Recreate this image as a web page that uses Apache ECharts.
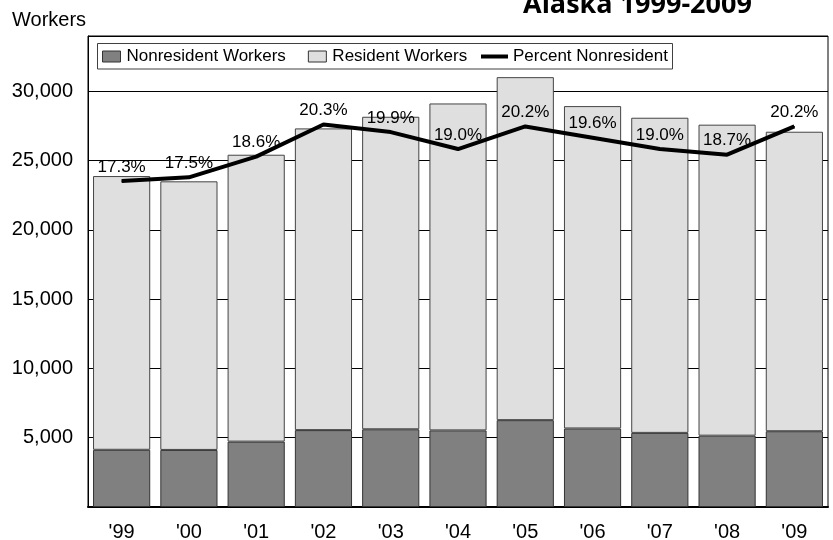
<!DOCTYPE html>
<html>
<head>
<meta charset="utf-8">
<script src="https://cdn.jsdelivr.net/npm/echarts@6/dist/echarts.min.js"></script>
<style>
  html, body { margin: 0; padding: 0; background: #fff; }
  #chart { width: 833px; height: 540px; }
</style>
</head>
<body>
<div id="chart"></div>
<script>
// data
const years = ["'99", "'00", "'01", "'02", "'03", "'04", "'05", "'06", "'07", "'08", "'09"];
const nonresident = [4130, 4120, 4720, 5550, 5610, 5530, 6270, 5670, 5350, 5150, 5470];
const resident = [19760, 19390, 20710, 21780, 22560, 23600, 24760, 23270, 22750, 22450, 21620];
const pctNonresident = [17.3, 17.5, 18.6, 20.3, 19.9, 19.0, 20.2, 19.6, 19.0, 18.7, 20.2];
const yTicks = [5000, 10000, 15000, 20000, 25000, 30000];

const FONT = '"Liberation Sans", Arial, sans-serif';

const chart = echarts.init(document.getElementById('chart'), null, { renderer: 'canvas' });

const option = {
  backgroundColor: '#fff',
  animation: false,
  textStyle: { fontFamily: FONT, color: '#000' },
  graphic: [
    {
      type: 'text',
      left: 12,
      top: 10,
      style: { text: 'Workers', font: '20px ' + FONT, fill: '#000' }
    },
    {
      type: 'text',
      left: 523,
      top: -8,
      style: { text: 'Alaska 1999-2009', font: 'bold 27px "Open Sans", sans-serif', fill: '#000' }
    },
    {
      // legend frame
      type: 'rect',
      z: 3,
      shape: { x: 97.5, y: 43.5, width: 575, height: 25.5 },
      style: { fill: '#fff', stroke: '#404040', lineWidth: 1 }
    }
  ],
  legend: [
    {
      left: 102,
      top: 48,
      padding: 0,
      itemGap: 22,
      itemWidth: 18,
      itemHeight: 11,
      icon: 'rect',
      z: 5,
      data: ['Nonresident Workers', 'Resident Workers'],
      itemStyle: { borderColor: '#333', borderWidth: 1 },
      textStyle: { fontSize: 17, fontFamily: FONT, color: '#000', padding: [0, 0, 0, 1] }
    },
    {
      left: 479,
      top: 48,
      padding: 0,
      itemWidth: 27,
      itemHeight: 4,
      z: 5,
      data: ['Percent Nonresident'],
      lineStyle: { width: 4 },
      textStyle: { fontSize: 17, fontFamily: FONT, color: '#000' }
    }
  ],
  grid: {
    left: 88,
    right: 5,
    top: 36,
    bottom: 33,
    outerBoundsMode: 'none',
    show: true,
    borderColor: '#000',
    borderWidth: 1
  },
  xAxis: {
    type: 'category',
    data: years,
    axisTick: { show: false },
    axisLine: { lineStyle: { color: '#000', width: 2 } },
    axisLabel: { fontSize: 20, fontFamily: FONT, color: '#000', margin: 15 }
  },
  yAxis: [
    {
      type: 'value',
      min: 0,
      max: 34000,
      interval: 5000,
      axisLine: { show: true, lineStyle: { color: '#000', width: 1 } },
      axisTick: { show: false },
      splitLine: { show: true, lineStyle: { color: '#000', width: 1 } },
      axisLabel: {
        fontSize: 20,
        fontFamily: FONT,
        color: '#000',
        margin: 15,
        formatter: function (v) {
          return yTicks.indexOf(v) >= 0 ? v.toLocaleString('en-US') : '';
        }
      }
    },
    {
      type: 'value',
      min: 0,
      max: 25,
      show: false,
      splitLine: { show: false }
    }
  ],
  series: [
    {
      name: 'Nonresident Workers',
      type: 'bar',
      stack: 'workers',
      data: nonresident,
      barCategoryGap: '15%',
      itemStyle: { color: '#808080', borderColor: '#333', borderWidth: 1 }
    },
    {
      name: 'Resident Workers',
      type: 'bar',
      stack: 'workers',
      data: resident,
      barCategoryGap: '15%',
      itemStyle: { color: '#dfdfdf', borderColor: '#444', borderWidth: 1 }
    },
    {
      name: 'Percent Nonresident',
      type: 'line',
      yAxisIndex: 1,
      data: pctNonresident,
      z: 4,
      symbol: 'circle',
      symbolSize: 1,
      itemStyle: { color: '#000' },
      lineStyle: { color: '#000', width: 4 },
      label: {
        show: true,
        position: 'top',
        distance: 5,
        fontSize: 17,
        fontFamily: FONT,
        color: '#000',
        formatter: function (p) { return p.value.toFixed(1) + '%'; }
      }
    }
  ]
};

chart.setOption(option);
</script>
</body>
</html>
